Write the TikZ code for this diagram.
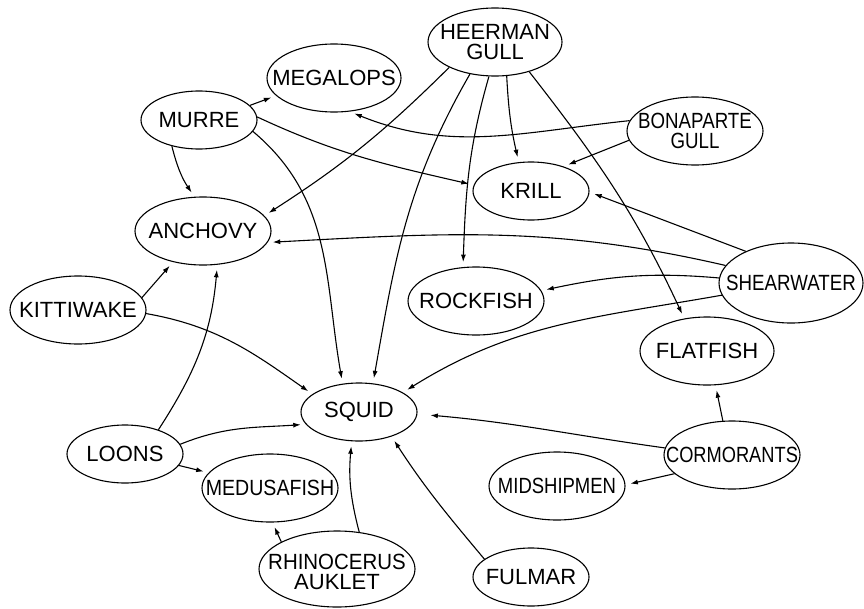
\documentclass[tikz,border=0pt]{standalone}
\usepackage{fontspec}
\usepackage{graphicx}
\setmainfont{Liberation Sans}
\usetikzlibrary{arrows.meta,shapes.geometric}
\tikzset{
  bird/.style={draw, ellipse, line width=1.1pt, inner sep=0pt},
  lab/.style={font=\fontsize{22}{20}\selectfont, align=center, inner sep=0pt},
  eat/.style={line width=1.1pt, -{Latex[length=7.5pt,width=5pt]}, shorten >=5pt},
}
\begin{document}
\begin{tikzpicture}[x=1pt,y=1pt]
\useasboundingbox (0,0) rectangle (864,-608);
% nodes
\node[bird, minimum width=134pt, minimum height=68pt, label={[lab]center:HEERMAN\\GULL}] (hg) at (495,-42) {};
\node[bird, minimum width=134pt, minimum height=68pt, label={[lab]center:MEGALOPS}] (meg) at (334,-78) {};
\node[bird, minimum width=116pt, minimum height=58pt, label={[lab]center:MURRE}] (murre) at (199,-120) {};
\node[bird, minimum width=136pt, minimum height=68pt, label={[lab]center:ANCHOVY}] (anch) at (203,-231) {};
\node[bird, minimum width=136pt, minimum height=68pt, label={[lab]center:\scalebox{0.85}[1]{BONAPARTE}\\\scalebox{0.85}[1]{GULL}}] (bg) at (695,-131) {};
\node[bird, minimum width=116pt, minimum height=58pt, label={[lab]center:KRILL}] (krill) at (531,-191) {};
\node[bird, minimum width=144pt, minimum height=80pt, label={[lab]center:\scalebox{0.85}[1]{SHEARWATER}}] (sw) at (791,-283) {};
\node[bird, minimum width=134pt, minimum height=68pt, label={[lab]center:FLATFISH}] (flat) at (707,-351) {};
\node[bird, minimum width=136pt, minimum height=68pt, label={[lab]center:ROCKFISH}] (rock) at (476,-301) {};
\node[bird, minimum width=136pt, minimum height=68pt, label={[lab]center:KITTIWAKE}] (kitt) at (78,-310) {};
\node[bird, minimum width=116pt, minimum height=58pt, label={[lab]center:SQUID}] (squid) at (359,-412) {};
\node[bird, minimum width=116pt, minimum height=58pt, label={[lab]center:LOONS}] (loons) at (125,-454) {};
\node[bird, minimum width=136pt, minimum height=68pt, label={[lab]center:\scalebox{0.89}[1]{MEDUSAFISH}}] (medusa) at (270,-488) {};
\node[bird, minimum width=156pt, minimum height=76pt, label={[lab,yshift=-3pt]center:\scalebox{0.93}[1]{RHINOCERUS}\\AUKLET}] (rhino) at (337,-569) {};
\node[bird, minimum width=116pt, minimum height=58pt, label={[lab]center:FULMAR}] (fulmar) at (531,-577) {};
\node[bird, minimum width=136pt, minimum height=68pt, label={[lab]center:\scalebox{0.84}[1]{MIDSHIPMEN}}] (mid) at (557,-486) {};
\node[bird, minimum width=136pt, minimum height=68pt, label={[lab]center:\scalebox{0.83}[1]{CORMORANTS}}] (corm) at (732,-455) {};
% connectors
\draw[eat] (murre.16) -- (meg.197);
\draw[eat] (murre.224) to[bend right=10] (anch.104);
\draw[eat] (murre.3) to[out=-25,in=167] (krill.174);
\draw[eat] (murre.-12) to[out=-40,in=100] (squid.120);
\draw[eat] (hg.209) to[bend left=6] (anch.14);
\draw[eat] (hg.232) to[out=-120,in=80] (squid.64);
\draw[eat] (hg.260) to[out=-106,in=88] (rock.111);
\draw[eat] (hg.289) to[bend right=5] (krill.113);
\draw[eat] (hg.-41) to[out=-52,in=115] (flat.125);
\draw[eat] (bg.171) to[out=186,in=-22] (meg.-65);
\draw[eat] (bg.188) -- (krill.37);
\draw[eat] (sw.145) -- (krill.-1);
\draw[eat] (sw.165) to[out=167,in=3] (anch.-10);
\draw[eat] (sw.176) to[out=175,in=12] (rock.9);
\draw[eat] (sw.190) to[out=190,in=32] (squid.24);
\draw[eat] (kitt.11) -- (anch.226);
\draw[eat] (kitt.-3) to[out=-10,in=145] (squid.159);
\draw[eat] (loons.36) to[out=57,in=-95] (anch.293);
\draw[eat] (loons.10) to[out=22,in=184] (squid.193);
\draw[eat] (loons.-12) -- (medusa.166);
\draw[eat] (rhino.154) -- (medusa.274);
\draw[eat] (rhino.59) to[bend left=10] (squid.256);
\draw[eat] (fulmar.159) to[out=130,in=-57] (squid.-37);
\draw[eat, shorten >=13pt] (corm.174) to[out=172,in=-5] (squid.-2);
\draw[eat] (corm.105) -- (flat.284);
\draw[eat] (corm.198) -- (mid.1);
\end{tikzpicture}
\end{document}
